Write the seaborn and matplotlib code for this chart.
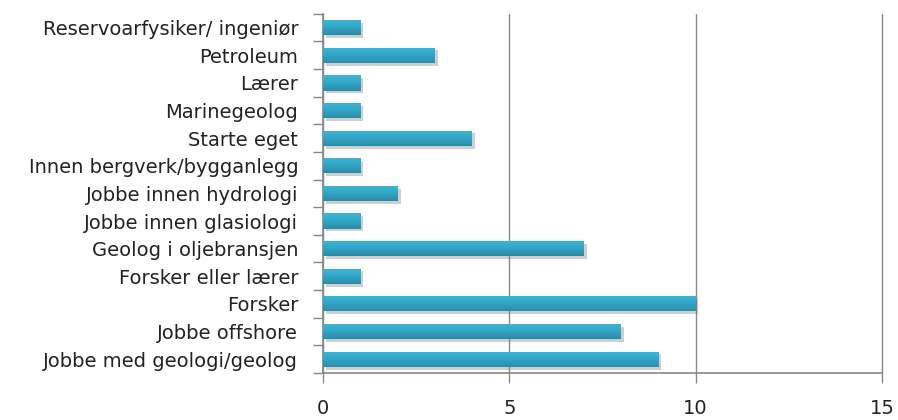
import matplotlib
matplotlib.use("Agg")
import matplotlib.pyplot as plt
import matplotlib.patheffects as pe
from matplotlib.colors import LinearSegmentedColormap
import seaborn as sns
import pandas as pd
import numpy as np

categories = ["Reservoarfysiker/ ingeniør", "Petroleum", "Lærer", "Marinegeolog",
              "Starte eget", "Innen bergverk/bygganlegg", "Jobbe innen hydrologi",
              "Jobbe innen glasiologi", "Geolog i oljebransjen", "Forsker eller lærer",
              "Forsker", "Jobbe offshore", "Jobbe med geologi/geolog"]
values = [1, 3, 1, 1, 4, 1, 2, 1, 7, 1, 10, 8, 9]
xticks = [0, 5, 10, 15]

sns.set_style("white")
plt.rcParams['font.family'] = ['DejaVu Sans']

df = pd.DataFrame({"cat": categories, "val": values})
fig = plt.figure(figsize=(8.98, 4.2), dpi=100)
ax = fig.add_axes([0.36, 0.112, 0.622, 0.855])
sns.barplot(data=df, x="val", y="cat", orient="h", color="#31A8CA",
            saturation=1, width=0.55, ax=ax, zorder=3, linewidth=0)

# gradient + shadow on each bar
cmap = LinearSegmentedColormap.from_list("bar", ["#3BB6D8", "#33A6C6", "#2A8CA7"])
grad = np.linspace(0, 1, 64).reshape(-1, 1)
for p in list(ax.patches):
    p.set_path_effects([pe.SimplePatchShadow(offset=(2, -2), shadow_rgbFace="#777777", alpha=0.35),
                        pe.Normal()])
    x0, y0 = p.get_x(), p.get_y()
    w, h = p.get_width(), p.get_height()
    im = ax.imshow(grad, cmap=cmap, aspect="auto", extent=(x0, x0 + w, y0 + h, y0),
                   origin="upper", zorder=4)
    im.set_clip_path(p)

ax.set_xlim(0, 15)
ax.set_ylim(12.5, -0.5)
ax.set_xticks(xticks)
ax.set_xticklabels([str(t) for t in xticks], fontsize=14, color="#222222")
ax.grid(axis="x", color="#888888", linewidth=1, zorder=0)
for gl in ax.get_xgridlines():
    gl.set_clip_on(False)
ax.set_xlabel("")
ax.set_ylabel("")
for s in ["top", "right"]:
    ax.spines[s].set_visible(False)
for s in ["left", "bottom"]:
    ax.spines[s].set_color("#888888")
    ax.spines[s].set_linewidth(1.2)
ax.tick_params(axis="x", direction="out", length=7, width=1, color="#888888", pad=12,
               bottom=True)
ax.tick_params(axis="y", which="major", length=0, pad=18, labelsize=14, labelcolor="#222222")
ax.set_yticks(np.arange(-0.5, 13, 1), minor=True)
ax.tick_params(axis="y", which="minor", direction="out", length=7, width=1, color="#888888", left=True)
fig.savefig("out.png", dpi=100)
